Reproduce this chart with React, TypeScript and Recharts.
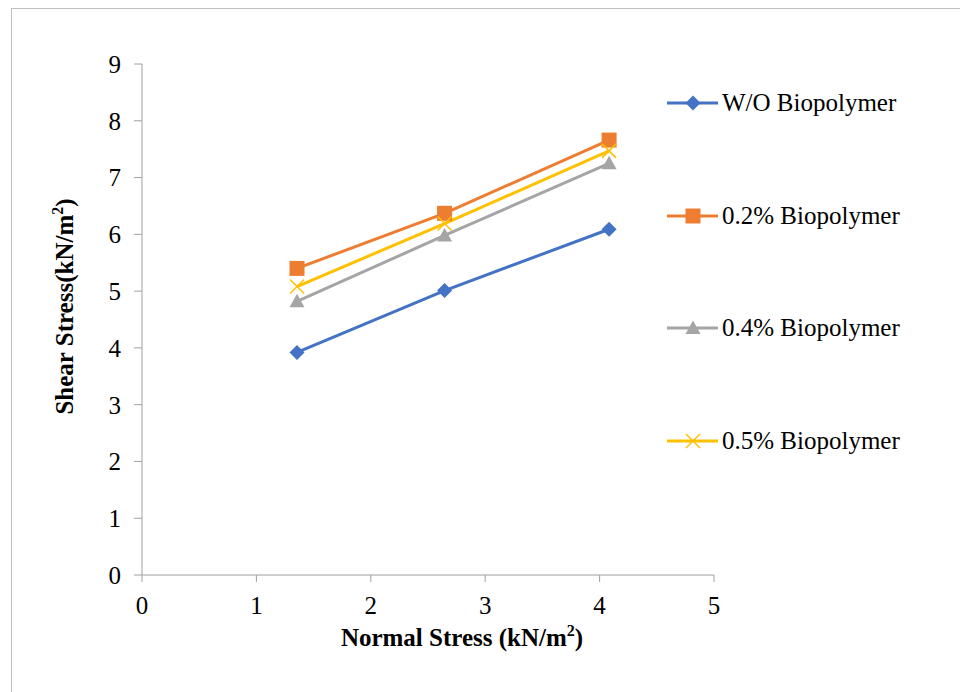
import { CartesianGrid, Label, Legend, Line, LineChart, XAxis, YAxis } from "recharts";

const xValues = [1.355, 2.645, 4.083];
const woBiopolymer = [3.92, 5.01, 6.09];
const bio02 = [5.4, 6.37, 7.66];
const bio04 = [4.82, 5.98, 7.25];
const bio05 = [5.08, 6.19, 7.47];

const xTicks = [0, 1, 2, 3, 4, 5];
const yTicks = [0, 1, 2, 3, 4, 5, 6, 7, 8, 9];

const FONT = "'Liberation Serif', 'Times New Roman', serif";
const AXIS_COLOR = "#a0a0a0";

type Shape = "diamond" | "square" | "triangle" | "cross";

const SERIES: { key: string; name: string; color: string; shape: Shape }[] = [
  { key: "wo", name: "W/O Biopolymer", color: "#4472c4", shape: "diamond" },
  { key: "b02", name: "0.2% Biopolymer", color: "#ed7d31", shape: "square" },
  { key: "b04", name: "0.4% Biopolymer", color: "#a5a5a5", shape: "triangle" },
  { key: "b05", name: "0.5% Biopolymer", color: "#ffc000", shape: "cross" },
];

const data = xValues.map((x, i) => ({
  x,
  wo: woBiopolymer[i],
  b02: bio02[i],
  b04: bio04[i],
  b05: bio05[i],
}));

const Marker = ({ shape, cx, cy, color }: { shape: Shape; cx: number; cy: number; color: string }) => {
  if (shape === "diamond") {
    return (
      <polygon
        points={`${cx},${cy - 7.5} ${cx + 7.5},${cy} ${cx},${cy + 7.5} ${cx - 7.5},${cy}`}
        fill={color}
      />
    );
  }
  if (shape === "square") {
    return <rect x={cx - 7.5} y={cy - 7.5} width={15} height={15} fill={color} />;
  }
  if (shape === "triangle") {
    return (
      <polygon
        points={`${cx},${cy - 7.5} ${cx + 7.5},${cy + 6} ${cx - 7.5},${cy + 6}`}
        fill={color}
      />
    );
  }
  return (
    <g stroke={color} strokeWidth={1.5}>
      <line x1={cx - 7} y1={cy - 7} x2={cx + 7} y2={cy + 7} />
      <line x1={cx - 7} y1={cy + 7} x2={cx + 7} y2={cy - 7} />
    </g>
  );
};

const renderLegend = () => (
  <div style={{ fontFamily: FONT, fontSize: 25, color: "#000" }}>
    {SERIES.map((s) => (
      <div
        key={s.key}
        style={{ display: "flex", alignItems: "center", height: 24, marginBottom: 88.5 }}
      >
        <svg width={51} height={20} style={{ overflow: "visible" }}>
          <line x1={0} y1={10} x2={51} y2={10} stroke={s.color} strokeWidth={3} />
          <Marker shape={s.shape} cx={26} cy={10} color={s.color} />
        </svg>
        <span style={{ marginLeft: 4, whiteSpace: "nowrap" }}>{s.name}</span>
      </div>
    ))}
  </div>
);

const renderXTitle = (props: any) => {
  const { x, y, width } = props.viewBox;
  return (
    <text
      x={x + width / 2 + 34}
      y={y + 71}
      textAnchor="middle"
      fontFamily={FONT}
      fontSize={25}
      fontWeight="bold"
      fill="#000"
    >
      Normal Stress (kN/m
      <tspan fontSize={16} dy={-10}>2</tspan>
      <tspan dy={10}>)</tspan>
    </text>
  );
};

const renderYTitle = (props: any) => {
  const { x, y, height } = props.viewBox;
  const cx = x + 73;
  const cy = y + height / 2 - 13;
  return (
    <text
      x={cx}
      y={cy}
      textAnchor="middle"
      transform={`rotate(-90, ${cx}, ${cy})`}
      fontFamily={FONT}
      fontSize={25}
      fontWeight="bold"
      fill="#000"
    >
      Shear Stress(kN/m
      <tspan fontSize={16} dy={-10}>2</tspan>
      <tspan dy={10}>)</tspan>
    </text>
  );
};

export default function App() {
  return (
    <div
      style={{
        position: "absolute",
        left: 0,
        top: 0,
        width: 960,
        height: 692,
        overflow: "hidden",
        background: "#fff",
      }}
    >
      <div
        style={{
          position: "absolute",
          left: 11,
          top: 8,
          width: 1000,
          height: 750,
          border: "1px solid #bfbfbf",
        }}
      />
      <LineChart
        width={960}
        height={692}
        data={data}
        margin={{ top: 64, right: 246, bottom: 0, left: 0 }}
      >
        <CartesianGrid stroke="none" />
        <XAxis
          type="number"
          dataKey="x"
          domain={[0, 5]}
          ticks={xTicks}
          height={117}
          tickSize={7}
          tickMargin={14}
          stroke={AXIS_COLOR}
          tick={{ fill: "#000", fontSize: 25, fontFamily: FONT }}
          label={<Label content={renderXTitle} />}
        />
        <YAxis
          type="number"
          domain={[0, 9]}
          ticks={yTicks}
          width={142}
          tickSize={8}
          tickMargin={13}
          stroke={AXIS_COLOR}
          tick={{ fill: "#000", fontSize: 25, fontFamily: FONT }}
          label={<Label content={renderYTitle} />}
        />
        <Legend
          layout="vertical"
          align="center"
          verticalAlign="middle"
          content={renderLegend}
          wrapperStyle={{ left: 667, top: 91, width: 290 }}
        />
        {SERIES.map((s) => (
          <Line
            key={s.key}
            dataKey={s.key}
            name={s.name}
            stroke={s.color}
            strokeWidth={3}
            isAnimationActive={false}
            dot={(p: any) => (
              <Marker key={`${s.key}-${p.index}`} shape={s.shape} cx={p.cx} cy={p.cy} color={s.color} />
            )}
            activeDot={false}
          />
        ))}
      </LineChart>
    </div>
  );
}
